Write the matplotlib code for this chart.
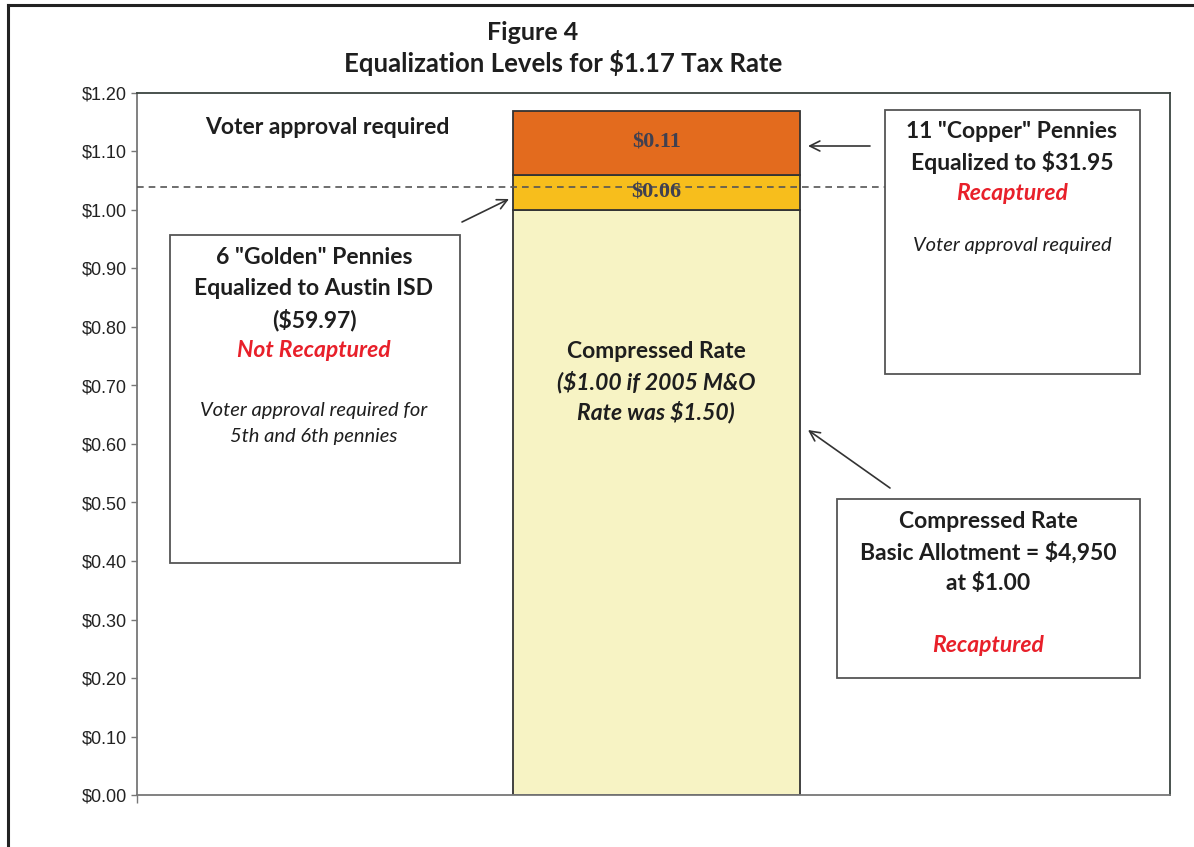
import matplotlib
matplotlib.use("Agg")
import matplotlib.pyplot as plt
from matplotlib.patches import Rectangle
from matplotlib.lines import Line2D

# ---- data ----
segment_names = ["Compressed Rate", "Golden Pennies", "Copper Pennies"]
segment_values = [1.00, 0.06, 0.11]
segment_colors = ["#f7f3c4", "#f7be1c", "#e36b1e"]
segment_labels = ["", "$0.06", "$0.11"]
voter_threshold = 1.04
ytick_values = [0.0, 0.1, 0.2, 0.3, 0.4, 0.5, 0.6, 0.7, 0.8, 0.9, 1.0, 1.1, 1.2]
ytick_labels = ["$%.2f" % v for v in ytick_values]

W, H = 1194, 847
fig = plt.figure(figsize=(W / 100, H / 100), dpi=100)
fig.patch.set_facecolor("white")

SANS = ["Lato", "DejaVu Sans"]

# axes placement (pixel -> figure fraction)
L, R, T, B = 137, 1170, 93, 795
ax = fig.add_axes([L / W, 1 - B / H, (R - L) / W, (B - T) / H])
ax.set_xlim(0, 1)
ax.set_ylim(0, 1.2)
for s in ["top", "right"]:
    ax.spines[s].set_color("#3a4440")
    ax.spines[s].set_linewidth(1.3)
for s in ["left", "bottom"]:
    ax.spines[s].set_color("#777777")
    ax.spines[s].set_linewidth(1.3)
ax.set_yticks(ytick_values)
ax.set_yticklabels(ytick_labels, fontfamily=["Liberation Sans", "DejaVu Sans"], fontsize=13, color="#222222")
ax.tick_params(axis="y", length=4, width=1, color="#777777", pad=3)
ax.set_xticks([0])
ax.set_xticklabels([""])
ax.tick_params(axis="x", length=6, width=1, color="#777777", direction="out")

def px(x):
    return (x - L) / (R - L)

def py(y):
    return (B - y) / (B - T)

# stacked bar
bar_x = px((513 + 800) / 2)
bar_w = px(800) - px(513)
bottom = 0.0
for val, col, lab in zip(segment_values, segment_colors, segment_labels):
    ax.bar(bar_x, val, width=bar_w, bottom=bottom, color=col, edgecolor="#333333", linewidth=1.3, zorder=2)
    if lab:
        ax.text(bar_x, bottom + val / 2, lab, ha="center", va="center",
                fontfamily=["Liberation Serif", "DejaVu Serif"], fontsize=16, fontweight="bold",
                color="#404050", zorder=4)
    bottom += val

# dashed voter threshold line
ax.plot([0, px(885)], [voter_threshold, voter_threshold], ls=(0, (4, 3)), color="#555555", lw=1.2, zorder=3)

# boxes
def box(x0, y0, x1, y1):
    ax.add_patch(Rectangle((px(x0), py(y1)), px(x1) - px(x0), py(y0) - py(y1),
                           transform=ax.transAxes, facecolor="white", edgecolor="#555555",
                           linewidth=1.3, zorder=5))

box(170, 235, 460, 563)
box(885, 110, 1140, 374)
box(837, 499, 1140, 678)

def t(x, y, s, size=16.5, color="#1e1e1e", style="normal", weight="bold"):
    ax.text(px(x), py(y), s, transform=ax.transAxes, ha="center", va="center",
            fontsize=size, color=color, fontstyle=style, fontweight=weight,
            fontfamily=SANS, zorder=6)

RED = "#e8202a"
t(327, 128, "Voter approval required", size=16.5)

t(314, 257, '6 "Golden" Pennies')
t(314, 288, "Equalized to Austin ISD")
t(314, 320, "($59.97)")
t(314, 350, "Not Recaptured", color=RED, style="italic")
t(314, 410, "Voter approval required for", size=14.5, style="italic", weight="normal")
t(314, 436, "5th and 6th pennies", size=14.5, style="italic", weight="normal")

t(1012, 132, '11 "Copper" Pennies')
t(1012, 162, "Equalized to $31.95")
t(1012, 193, "Recaptured", color=RED, style="italic")
t(1012, 246, "Voter approval required", size=14.5, style="italic", weight="normal")

t(988, 522, "Compressed Rate")
t(988, 553, "Basic Allotment = $4,950")
t(988, 583, "at $1.00")
t(988, 645, "Recaptured", color=RED, style="italic")

t(656, 352, "Compressed Rate")
t(656, 382, "($1.00 if 2005 M&O", style="italic")
t(656, 412, "Rate was $1.50)", style="italic")

# arrows
def arrow(x0, y0, x1, y1):
    ax.annotate("", xy=(px(x1), py(y1)), xytext=(px(x0), py(y0)),
                xycoords="axes fraction", textcoords="axes fraction",
                arrowprops=dict(arrowstyle="->", color="#333333", lw=1.2,
                                mutation_scale=18, shrinkA=0, shrinkB=0), zorder=6)

arrow(462, 222, 509, 199)
arrow(870, 146, 808, 146)
arrow(890, 488, 808, 430)

# title
fig.text(533 / W, 1 - 33 / H, "Figure 4", ha="center", va="center",
         fontsize=18, fontweight="bold", fontfamily=SANS, color="#1e1e1e")
fig.text(563 / W, 1 - 63 / H, "Equalization Levels for $1.17 Tax Rate", ha="center", va="center",
         fontsize=18.5, fontweight="bold", fontfamily=SANS, color="#1e1e1e")

# outer frame
fig.add_artist(Line2D([8 / W, 8 / W], [0, 1 - 5 / H], transform=fig.transFigure, color="#222222", lw=2.2))
fig.add_artist(Line2D([8 / W, 1], [1 - 5 / H, 1 - 5 / H], transform=fig.transFigure, color="#222222", lw=2.2))

fig.savefig("out.png", dpi=100)
